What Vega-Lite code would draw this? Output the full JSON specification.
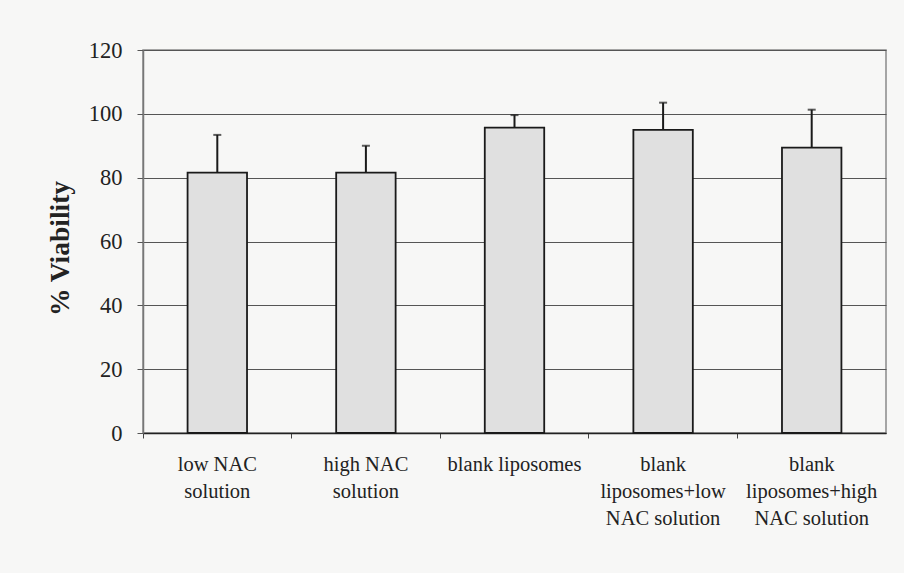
{
  "$schema": "https://vega.github.io/schema/vega-lite/v6.json",
  "width": 743,
  "height": 383,
  "autosize": "none",
  "padding": {"left": 143, "top": 50, "right": 18, "bottom": 140},
  "background": "#f7f7f6",
  "config": {
    "font": "Liberation Serif",
    "view": {"stroke": "#8a8a8a", "strokeWidth": 1.5},
    "axis": {"labelFont": "Liberation Serif", "titleFont": "Liberation Serif", "labelColor": "#222", "titleColor": "#222"}
  },
  "data": {
    "values": [
      {"group": "low NAC\nsolution", "viability": 81.6, "upper": 93.4},
      {"group": "high NAC\nsolution", "viability": 81.6, "upper": 90.0},
      {"group": "blank liposomes", "viability": 95.7, "upper": 99.6},
      {"group": "blank\nliposomes+low\nNAC solution", "viability": 95.0, "upper": 103.5},
      {"group": "blank\nliposomes+high\nNAC solution", "viability": 89.4, "upper": 101.3}
    ]
  },
  "encoding": {
    "x": {
      "field": "group",
      "type": "nominal",
      "sort": null,
      "scale": {"paddingInner": 0, "paddingOuter": 0},
      "axis": {
        "title": null,
        "labelAngle": 0,
        "labelExpr": "split(datum.value, '\\n')",
        "labelFontSize": 20.5,
        "labelLineHeight": 27,
        "labelPadding": 16,
        "labelBaseline": "top",
        "bandPosition": 0,
        "tickSize": 5,
        "tickColor": "#444",
        "domainColor": "#222",
        "domainWidth": 1.5,
        "labelLimit": 300
      }
    }
  },
  "layer": [
    {
      "mark": {"type": "bar", "width": {"band": 0.4}, "fill": "#e0e0e0", "stroke": "#1a1a1a", "strokeWidth": 1.8},
      "encoding": {
        "y": {
          "field": "viability",
          "type": "quantitative",
          "scale": {"domain": [0, 120], "nice": false},
          "axis": {
            "title": "% Viability",
            "titleFontSize": 27.5,
            "titleFontWeight": "bold",
            "titlePadding": 14,
            "titleY": 198,
            "values": [0, 20, 40, 60, 80, 100, 120],
            "labelFontSize": 22.5,
            "labelPadding": 15,
            "tickSize": 6,
            "tickColor": "#555",
            "domainColor": "#777",
            "domainWidth": 1.5,
            "grid": true,
            "gridColor": "#555",
            "gridWidth": 1.2
          }
        }
      }
    },
    {
      "mark": {"type": "rule", "stroke": "#1a1a1a", "strokeWidth": 2},
      "encoding": {
        "y": {"field": "viability", "type": "quantitative"},
        "y2": {"field": "upper"}
      }
    },
    {
      "mark": {"type": "tick", "color": "#1a1a1a", "size": 8, "thickness": 2},
      "encoding": {
        "y": {"field": "upper", "type": "quantitative"}
      }
    }
  ]
}
